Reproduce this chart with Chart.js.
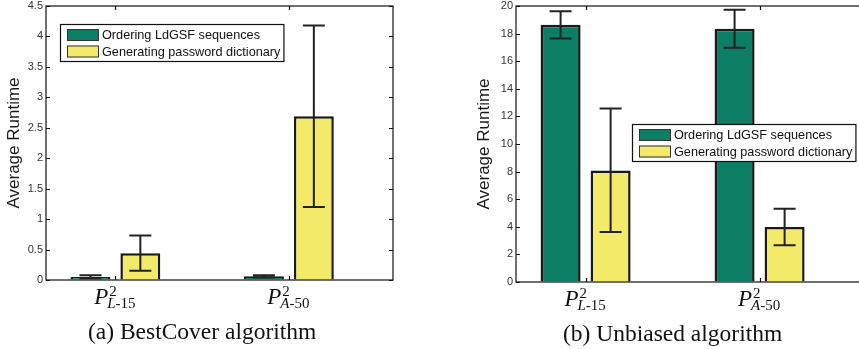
<!DOCTYPE html>
<html>
<head>
<meta charset="utf-8">
<script src="https://cdn.jsdelivr.net/npm/chart.js@4"></script>
<style>
  body { margin: 0; overflow: hidden; background: #fff; }
  #chartA { position: absolute; left: 0; top: 0; }
  #chartB { position: absolute; left: 430px; top: 0; }
</style>
</head>
<body>
<canvas id="chartA" width="430" height="349"></canvas>
<canvas id="chartB" width="440" height="349"></canvas>
<script>
// series names and the two categories (P^2 with these subscripts)
const seriesNames = ['Ordering LdGSF sequences', 'Generating password dictionary'];
const categorySubs = [['L', '15'], ['A', '50']];
const categoryX = [1, 2];

// (a) BestCover algorithm
const bestOrdering = [0.05, 0.06];
const bestOrderingLow = [0.03, 0.04];
const bestOrderingHigh = [0.08, 0.08];
const bestDictionary = [0.44, 2.69];
const bestDictionaryLow = [0.15, 1.20];
const bestDictionaryHigh = [0.73, 4.18];
const bestTicks = [0, 0.5, 1, 1.5, 2, 2.5, 3, 3.5, 4, 4.5];

// (b) Unbiased algorithm
const unbOrdering = [18.65, 18.35];
const unbOrderingLow = [17.65, 16.98];
const unbOrderingHigh = [19.62, 19.72];
const unbDictionary = [8.08, 3.99];
const unbDictionaryLow = [3.62, 2.66];
const unbDictionaryHigh = [12.58, 5.31];
const unbTicks = [0, 2, 4, 6, 8, 10, 12, 14, 16, 18, 20];

const green = '#0b7e64';
const yellow = '#f4ea6a';

function points(vals) {
  return vals.map((v, i) => ({ x: categoryX[i], y: v }));
}

function makeChart(id, cfg) {
  const plugin = {
    id: 'matlabLook',
    afterDatasetsDraw(chart) {
      const ctx = chart.ctx, y = chart.scales.y;
      ctx.save();
      ctx.strokeStyle = '#222';
      ctx.lineWidth = 2;
      chart.data.datasets.forEach((ds, di) => {
        chart.getDatasetMeta(di).data.forEach((bar, j) => {
          const top = y.getPixelForValue(ds.errHigh[j]);
          const bot = y.getPixelForValue(ds.errLow[j]);
          ctx.beginPath();
          ctx.moveTo(bar.x, top); ctx.lineTo(bar.x, bot);
          ctx.moveTo(bar.x - 11, top); ctx.lineTo(bar.x + 11, top);
          ctx.moveTo(bar.x - 11, bot); ctx.lineTo(bar.x + 11, bot);
          ctx.stroke();
        });
      });
      ctx.restore();
    },
    afterDraw(chart) {
      const ctx = chart.ctx, a = chart.chartArea;
      const x = chart.scales.x, y = chart.scales.y;
      ctx.save();
      // box
      ctx.strokeStyle = '#111';
      ctx.lineWidth = 1.2;
      ctx.strokeRect(a.left, a.top, a.right - a.left, a.bottom - a.top);
      // inward ticks
      ctx.beginPath();
      y.ticks.forEach(t => {
        const py = Math.round(y.getPixelForValue(t.value)) + 0.5;
        ctx.moveTo(a.left, py); ctx.lineTo(a.left + 4, py);
        ctx.moveTo(a.right, py); ctx.lineTo(a.right - 4, py);
      });
      categoryX.forEach(v => {
        const px = Math.round(x.getPixelForValue(v)) + 0.5;
        ctx.moveTo(px, a.top); ctx.lineTo(px, a.top + 4);
        ctx.moveTo(px, a.bottom); ctx.lineTo(px, a.bottom - 4);
      });
      ctx.stroke();

      // legend
      const lg = cfg.legend;
      ctx.font = '12.7px "Liberation Sans"';
      const tw = Math.max(...seriesNames.map(s => ctx.measureText(s).width));
      const w = 42 + tw + 3, h = 37;
      ctx.fillStyle = '#fff';
      ctx.fillRect(lg.x, lg.y, w, h);
      ctx.lineWidth = 1.2;
      ctx.strokeStyle = '#111';
      ctx.strokeRect(lg.x + 0.5, lg.y + 0.5, w, h);
      chart.data.datasets.forEach((ds, i) => {
        const sy = lg.y + 5 + i * 16.5;
        ctx.fillStyle = ds.backgroundColor;
        ctx.fillRect(lg.x + 7, sy, 32, 12);
        ctx.lineWidth = 1;
        ctx.strokeStyle = '#333';
        ctx.strokeRect(lg.x + 7.5, sy + 0.5, 31, 11);
        ctx.fillStyle = '#111';
        ctx.textBaseline = 'middle';
        ctx.textAlign = 'left';
        ctx.fillText(ds.label, lg.x + 42, sy + 6.5);
      });

      // category labels P^2_{sub}
      ctx.fillStyle = '#111';
      ctx.textBaseline = 'alphabetic';
      categoryX.forEach((v, i) => {
        const cx = x.getPixelForValue(v);
        const sub = categorySubs[i];
        ctx.font = 'italic 23px "Liberation Serif"';
        const wP = ctx.measureText('P').width;
        ctx.font = 'italic 15px "Liberation Serif"';
        const wL = ctx.measureText(sub[0]).width;
        ctx.font = '15px "Liberation Serif"';
        const wN = ctx.measureText('-' + sub[1]).width;
        const x0 = cx - (wP + wL + wN) / 2;
        ctx.font = 'italic 23px "Liberation Serif"';
        ctx.fillText('P', x0, a.bottom + 24);
        ctx.font = '15px "Liberation Serif"';
        ctx.fillText('2', x0 + wP + 1, a.bottom + 16);
        ctx.font = 'italic 15px "Liberation Serif"';
        ctx.fillText(sub[0], x0 + wP - 1, a.bottom + 28);
        ctx.font = '15px "Liberation Serif"';
        ctx.fillText('-' + sub[1], x0 + wP - 1 + wL, a.bottom + 28);
      });

      // caption
      ctx.font = '23.5px "Liberation Serif"';
      ctx.textAlign = 'center';
      ctx.fillText(cfg.caption, x.getPixelForValue(1.5), a.bottom + 59);
      ctx.restore();
    }
  };

  return new Chart(document.getElementById(id), {
    type: 'bar',
    data: {
      datasets: [
        { label: seriesNames[0], data: points(cfg.ordering), errLow: cfg.orderingLow, errHigh: cfg.orderingHigh,
          backgroundColor: green, borderColor: '#1a1a1a', borderWidth: 2.5 },
        { label: seriesNames[1], data: points(cfg.dictionary), errLow: cfg.dictionaryLow, errHigh: cfg.dictionaryHigh,
          backgroundColor: yellow, borderColor: '#1a1a1a', borderWidth: 2.5 }
      ]
    },
    options: {
      responsive: false,
      animation: false,
      categoryPercentage: 0.575,
      barPercentage: 0.8,
      layout: { padding: cfg.padding },
      plugins: { legend: { display: false }, tooltip: { enabled: false } },
      scales: {
        x: {
          type: 'linear', min: 0.6, max: 2.6, offset: false,
          afterBuildTicks: s => { s.ticks = categoryX.map(v => ({ value: v })); },
          afterFit: s => { s.height = 0; s.paddingLeft = s.paddingRight = 0; },
          ticks: { display: false },
          grid: { display: false },
          border: { display: false }
        },
        y: {
          min: 0, max: cfg.ticks[cfg.ticks.length - 1],
          afterBuildTicks: s => { s.ticks = cfg.ticks.map(v => ({ value: v })); },
          afterFit: s => { s.width = 46; s.paddingTop = s.paddingBottom = 0; },
          ticks: { callback: v => String(v), color: '#333', padding: 3,
                   font: { family: 'Liberation Sans', size: 11 } },
          grid: { drawOnChartArea: false, drawTicks: false },
          border: { display: false },
          title: { display: true, text: 'Average Runtime', color: '#1a1a1a', padding: { top: 4, bottom: 0 },
                   font: { family: 'Liberation Sans', size: 17 } }
        }
      }
    },
    plugins: [plugin]
  });
}

makeChart('chartA', {
  ordering: bestOrdering, orderingLow: bestOrderingLow, orderingHigh: bestOrderingHigh,
  dictionary: bestDictionary, dictionaryLow: bestDictionaryLow, dictionaryHigh: bestDictionaryHigh,
  ticks: bestTicks,
  padding: { left: 0, top: 6, right: 37, bottom: 69 },
  legend: { x: 60, y: 24 },
  caption: '(a) BestCover algorithm'
});

makeChart('chartB', {
  ordering: unbOrdering, orderingLow: unbOrderingLow, orderingHigh: unbOrderingHigh,
  dictionary: unbDictionary, dictionaryLow: unbDictionaryLow, dictionaryHigh: unbDictionaryHigh,
  ticks: unbTicks,
  padding: { left: 40, top: 6, right: 6, bottom: 67 },
  legend: { x: 202, y: 124 },
  caption: '(b) Unbiased algorithm'
});
</script>
</body>
</html>
